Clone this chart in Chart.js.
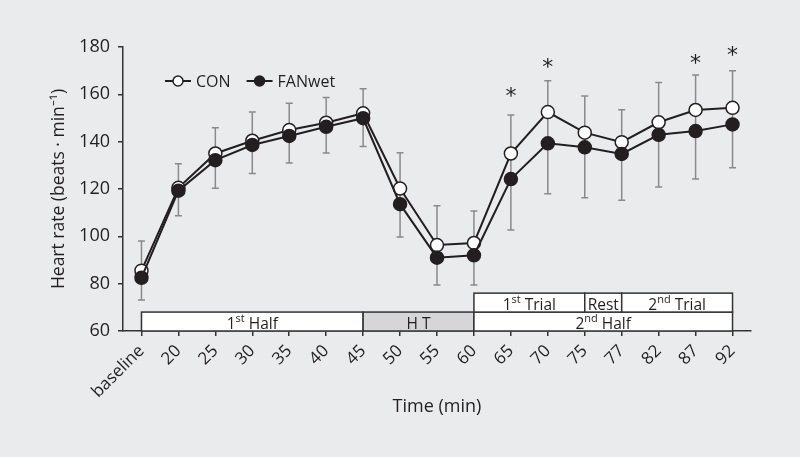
<!DOCTYPE html>
<html><head><meta charset="utf-8">
<script src="https://cdn.jsdelivr.net/npm/chart.js@4.4.1/dist/chart.umd.min.js"></script>
<style>html,body{margin:0;padding:0;background:#eaebed;}canvas{display:block}</style>
</head><body>
<canvas id="c" width="800" height="457"></canvas>
<script>
// ---- data ----
const categories = ['baseline','20','25','30','35','40','45','50','55','60','65','70','75','77','82','87','92'];
const conValues  = [85.5, 120.5, 135, 140.4, 144.9, 148, 152, 120.2, 96.3, 97.2, 135, 152.5, 143.8, 139.8, 148.2, 153.4, 154.3];
const fanValues  = [82.5, 119.3, 132.2, 138.6, 142.4, 146.3, 149.9, 113.6, 91, 92, 124.2, 139.3, 137.6, 134.8, 142.9, 144.5, 147.3];
const errUpper   = [98, 130.7, 145.9, 152.5, 156.2, 158.7, 162.4, 135.3, 112.9, 110.7, 151.3, 165.7, 159.3, 153.5, 165, 168.2, 170];
const errLower   = [73.1, 108.7, 120.3, 126.5, 131, 135.2, 138, 99.7, 79.4, 79.4, 102.7, 118, 116.3, 115.2, 120.8, 124.2, 129];
const sigMarks   = [null,null,null,null,null,null,null,null,null,null,160.8,173.3,null,null,null,174.9,178.3];
const yTicks     = [60, 80, 100, 120, 140, 160, 180];
const seriesNames = ['CON', 'FANwet'];
// phase boxes (rich text: ^{..} = superscript)
const phaseLabels = ['1^{st} Half', 'H T', '2^{nd} Half', '1^{st} Trial', 'Rest', '2^{nd} Trial'];
const phaseStart  = ['baseline', '45', '60', '60', '75', '77'];
const phaseEnd    = ['45', '60', '92', '75', '77', '92'];
const phaseLow    = [60, 60, 60, 68, 68, 68];
const phaseHigh   = [68, 68, 68, 76, 76, 76];
const shadedPhases = ['H T'];

// ---- styles ----
const FONT = '"Open Sans"';
const INK = '#231f20';
const BG = '#eaebed';
Chart.defaults.font.family = FONT;
Chart.defaults.color = INK;

function parseRich(str){
  const segs = []; const re = /\^\{([^}]*)\}/g; let last = 0, m;
  while ((m = re.exec(str))){ if (m.index > last) segs.push({t: str.slice(last, m.index), sup:false}); segs.push({t:m[1], sup:true}); last = re.lastIndex; }
  if (last < str.length) segs.push({t: str.slice(last), sup:false});
  return segs;
}
function drawRich(ctx, str, cx, baseline, size){
  const segs = parseRich(str);
  const supSize = Math.round(size*0.7);
  let total = 0;
  segs.forEach(s => { ctx.font = (s.sup?supSize:size) + 'px ' + FONT; s.w = ctx.measureText(s.t).width; total += s.w; });
  let x = cx - total/2;
  ctx.textAlign = 'left'; ctx.textBaseline = 'alphabetic';
  segs.forEach(s => { ctx.font = (s.sup?supSize:size) + 'px ' + FONT; ctx.fillText(s.t, x, s.sup ? baseline - size*0.4 : baseline); x += s.w; });
}

const bgPlugin = {
  id: 'bg',
  beforeDraw(chart){ const c = chart.ctx; c.save(); c.fillStyle = BG; c.fillRect(0,0,chart.width,chart.height); c.restore(); }
};

const phasePlugin = {
  id: 'phases',
  beforeDatasetsDraw(chart){
    const {ctx, scales:{x, y}} = chart;
    ctx.save();
    phaseLabels.forEach((lab, i) => {
      const x0 = x.getPixelForValue(categories.indexOf(phaseStart[i]));
      const x1 = x.getPixelForValue(categories.indexOf(phaseEnd[i]));
      const y0 = y.getPixelForValue(phaseHigh[i]);
      const y1 = y.getPixelForValue(phaseLow[i]);
      ctx.fillStyle = shadedPhases.includes(lab) ? '#d6d6d8' : '#ffffff';
      ctx.fillRect(x0, y0, x1-x0, y1-y0);
      ctx.strokeStyle = '#333'; ctx.lineWidth = 1.5;
      ctx.strokeRect(x0, y0, x1-x0, y1-y0);
      ctx.fillStyle = INK;
      drawRich(ctx, lab, (x0+x1)/2, y1 - 2.5, 15.5);
    });
    // error bars
    ctx.strokeStyle = '#8a8a8a'; ctx.lineWidth = 1.5;
    categories.forEach((c, i) => {
      const px = x.getPixelForValue(i);
      const yt = y.getPixelForValue(errUpper[i]);
      const yb = y.getPixelForValue(errLower[i]);
      ctx.beginPath();
      ctx.moveTo(px, yt); ctx.lineTo(px, yb);
      ctx.moveTo(px-3.5, yt); ctx.lineTo(px+3.5, yt);
      ctx.moveTo(px-3.5, yb); ctx.lineTo(px+3.5, yb);
      ctx.stroke();
    });
    ctx.restore();
  }
};

const annoPlugin = {
  id: 'anno',
  afterDatasetsDraw(chart){
    const {ctx, chartArea, scales:{x, y}} = chart;
    ctx.save();
    // significance asterisks
    ctx.fillStyle = INK; ctx.font = '22px "DejaVu Sans"'; ctx.textAlign = 'center'; ctx.textBaseline = 'alphabetic';
    const m = ctx.measureText('*');
    sigMarks.forEach((v, i) => {
      if (v == null) return;
      const px = x.getPixelForValue(i), py = y.getPixelForValue(v);
      ctx.fillText('*', px, py + (m.actualBoundingBoxAscent - m.actualBoundingBoxDescent)/2);
    });
    // legend
    const ds = chart.data.datasets;
    let lx = chartArea.left + 42; const ly = chartArea.top + 34;
    ds.forEach((d, i) => {
      ctx.strokeStyle = INK; ctx.lineWidth = 2;
      ctx.beginPath(); ctx.moveTo(lx, ly); ctx.lineTo(lx+26, ly); ctx.stroke();
      ctx.beginPath(); ctx.arc(lx+13, ly, 5, 0, Math.PI*2);
      ctx.fillStyle = d.pointBackgroundColor; ctx.fill();
      ctx.lineWidth = 1.5; ctx.stroke();
      ctx.fillStyle = INK; ctx.font = '16px ' + FONT; ctx.textAlign = 'left'; ctx.textBaseline = 'middle';
      ctx.fillText(d.label, lx + 31, ly + 1);
      lx += 31 + ctx.measureText(d.label).width + 16;
    });
    ctx.restore();
  }
};

new Chart(document.getElementById('c'), {
  type: 'line',
  data: {
    labels: categories,
    datasets: [
      { label: seriesNames[0], data: conValues, borderColor: INK, borderWidth: 2, pointRadius: 6.5, pointBorderWidth: 1.5,
        pointBackgroundColor: '#ffffff', pointBorderColor: INK, tension: 0, order: 1 },
      { label: seriesNames[1], data: fanValues, borderColor: INK, borderWidth: 2, pointRadius: 6.5, pointBorderWidth: 1.5,
        pointBackgroundColor: INK, pointBorderColor: INK, tension: 0, order: 0 }
    ]
  },
  options: {
    responsive: false, animation: false, devicePixelRatio: 1,
    layout: { padding: { left: 45, top: 47, right: 49, bottom: 35 } },
    plugins: { legend: { display: false }, tooltip: { enabled: false } },
    scales: {
      x: {
        offset: true,
        grid: { display: true, drawOnChartArea: false, drawTicks: true, tickLength: 5, color: '#333', lineWidth: 1.5, offset: false },
        border: { display: true, color: '#333', width: 1.5 },
        ticks: { autoSkip: false, minRotation: 45, maxRotation: 45, font: { size: 17 }, color: INK, padding: 5 },
        title: { display: true, text: 'Time (min)', font: { size: 18 }, color: INK, padding: { top: 4, bottom: 4 } },
        afterFit(s){ s.height = 91; }
      },
      y: {
        min: 60, max: 180,
        afterBuildTicks(s){ s.ticks = yTicks.map(v => ({ value: v })); },
        grid: { display: true, drawOnChartArea: false, drawTicks: true, tickLength: 5, color: '#333', lineWidth: 1.5 },
        border: { display: true, color: '#333', width: 1.5 },
        ticks: { font: { size: 18 }, color: INK, padding: 8 },
        title: { display: true, text: 'Heart rate (beats \u00B7 min\u207B\u00B9)', font: { size: 17.5 }, color: INK, padding: { top: 4, bottom: 4 } },
        afterFit(s){ s.width = 78; }
      }
    }
  },
  plugins: [bgPlugin, phasePlugin, annoPlugin]
});
</script>
</body></html>
